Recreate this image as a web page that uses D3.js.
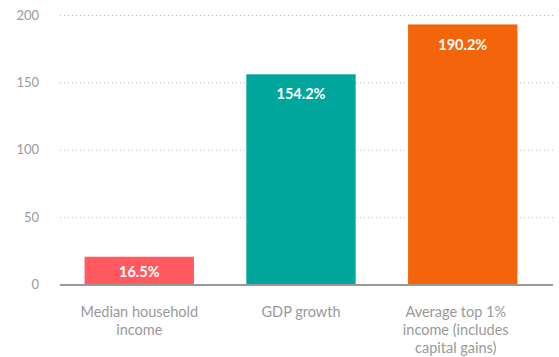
<!DOCTYPE html>
<html>
<head>
<meta charset="utf-8">
<script src="https://cdn.jsdelivr.net/npm/d3@7"></script>
<style>
  body { margin: 0; background: #fff; }
  text { font-family: Lato, "Open Sans", sans-serif; }
</style>
</head>
<body>
<div id="chart"></div>
<script>
const categories = ["Median household income", "GDP growth", "Average top 1% income (includes capital gains)"]
const values = [20.6, 156, 193]
const valueLabels = ["16.5%", "154.2%", "190.2%"]
const yTicks = [0, 50, 100, 150, 200]
const colors = ["#ff5a5f", "#00a69c", "#f4650b"]

// wrapped category labels
const catLines = [["Median household", "income"], ["GDP growth"], ["Average top 1%", "income (includes", "capital gains)"]]

const margin = {top: 15, right: 6, bottom: 72.5, left: 60},
    width = 559 - margin.left - margin.right,
    height = 357 - margin.top - margin.bottom;

const svg = d3.select("#chart")
    .append("svg")
    .attr("width", width + margin.left + margin.right)
    .attr("height", height + margin.top + margin.bottom)
    .append("g")
    .attr("transform", `translate(${margin.left},${margin.top})`);

const x = d3.scaleBand()
    .domain(categories)
    .range([0, 482])
    .paddingInner(0.324)
    .paddingOuter(0.152)

const y = d3.scaleLinear()
    .domain([0, 200])
    .range([height, 0]);

// gridlines + tick labels
const yAxis = svg.append("g")
    .call(d3.axisLeft(y).tickValues(yTicks).tickSize(-width).tickPadding(21))
yAxis.select(".domain").remove()
yAxis.selectAll(".tick line")
    .attr("stroke", "#b5b5b5")
    .attr("stroke-dasharray", "1,3")
    .attr("stroke-width", 1)
yAxis.selectAll(".tick text")
    .attr("fill", "#9a9a9a")
    .style("font-size", "13px")
    .style("font-family", "Lato, sans-serif")

// bars
svg.append("g")
    .selectAll("rect")
    .data(categories)
    .join("rect")
    .attr("x", d => x(d))
    .attr("y", (d, i) => y(values[i]))
    .attr("width", x.bandwidth())
    .attr("height", (d, i) => height - y(values[i]))
    .attr("fill", (d, i) => colors[i])

// value labels
svg.append("g")
    .selectAll("text")
    .data(categories)
    .join("text")
    .attr("x", d => x(d) + x.bandwidth() / 2)
    .attr("y", (d, i) => {
        const h = height - y(values[i])
        return h < 50 ? y(values[i]) + h / 2 + 1 : y(values[i]) + 20
    })
    .attr("dy", "0.35em")
    .attr("text-anchor", "middle")
    .attr("fill", "#fff")
    .style("font-size", "14.5px")
    .style("font-weight", "bold")
    .text((d, i) => valueLabels[i])

// baseline
svg.append("line")
    .attr("x1", 0)
    .attr("x2", width)
    .attr("y1", y(0) + 0.5)
    .attr("y2", y(0) + 0.5)
    .attr("stroke", "#999")
    .attr("stroke-width", 2)

// category labels
const cat = svg.append("g")
    .selectAll("text")
    .data(categories)
    .join("text")
    .attr("text-anchor", "middle")
    .attr("fill", "#999")
    .style("font-size", "14.5px")
    .attr("transform", (d, i) => `translate(${x(d) + x.bandwidth() / 2 - (i === 2 ? 7 : 0)},${height + 32})`)
cat.selectAll("tspan")
    .data((d, i) => catLines[i])
    .join("tspan")
    .attr("x", 0)
    .attr("dy", (d, j) => j === 0 ? 0 : 18)
    .text(d => d)
</script>
</body>
</html>
